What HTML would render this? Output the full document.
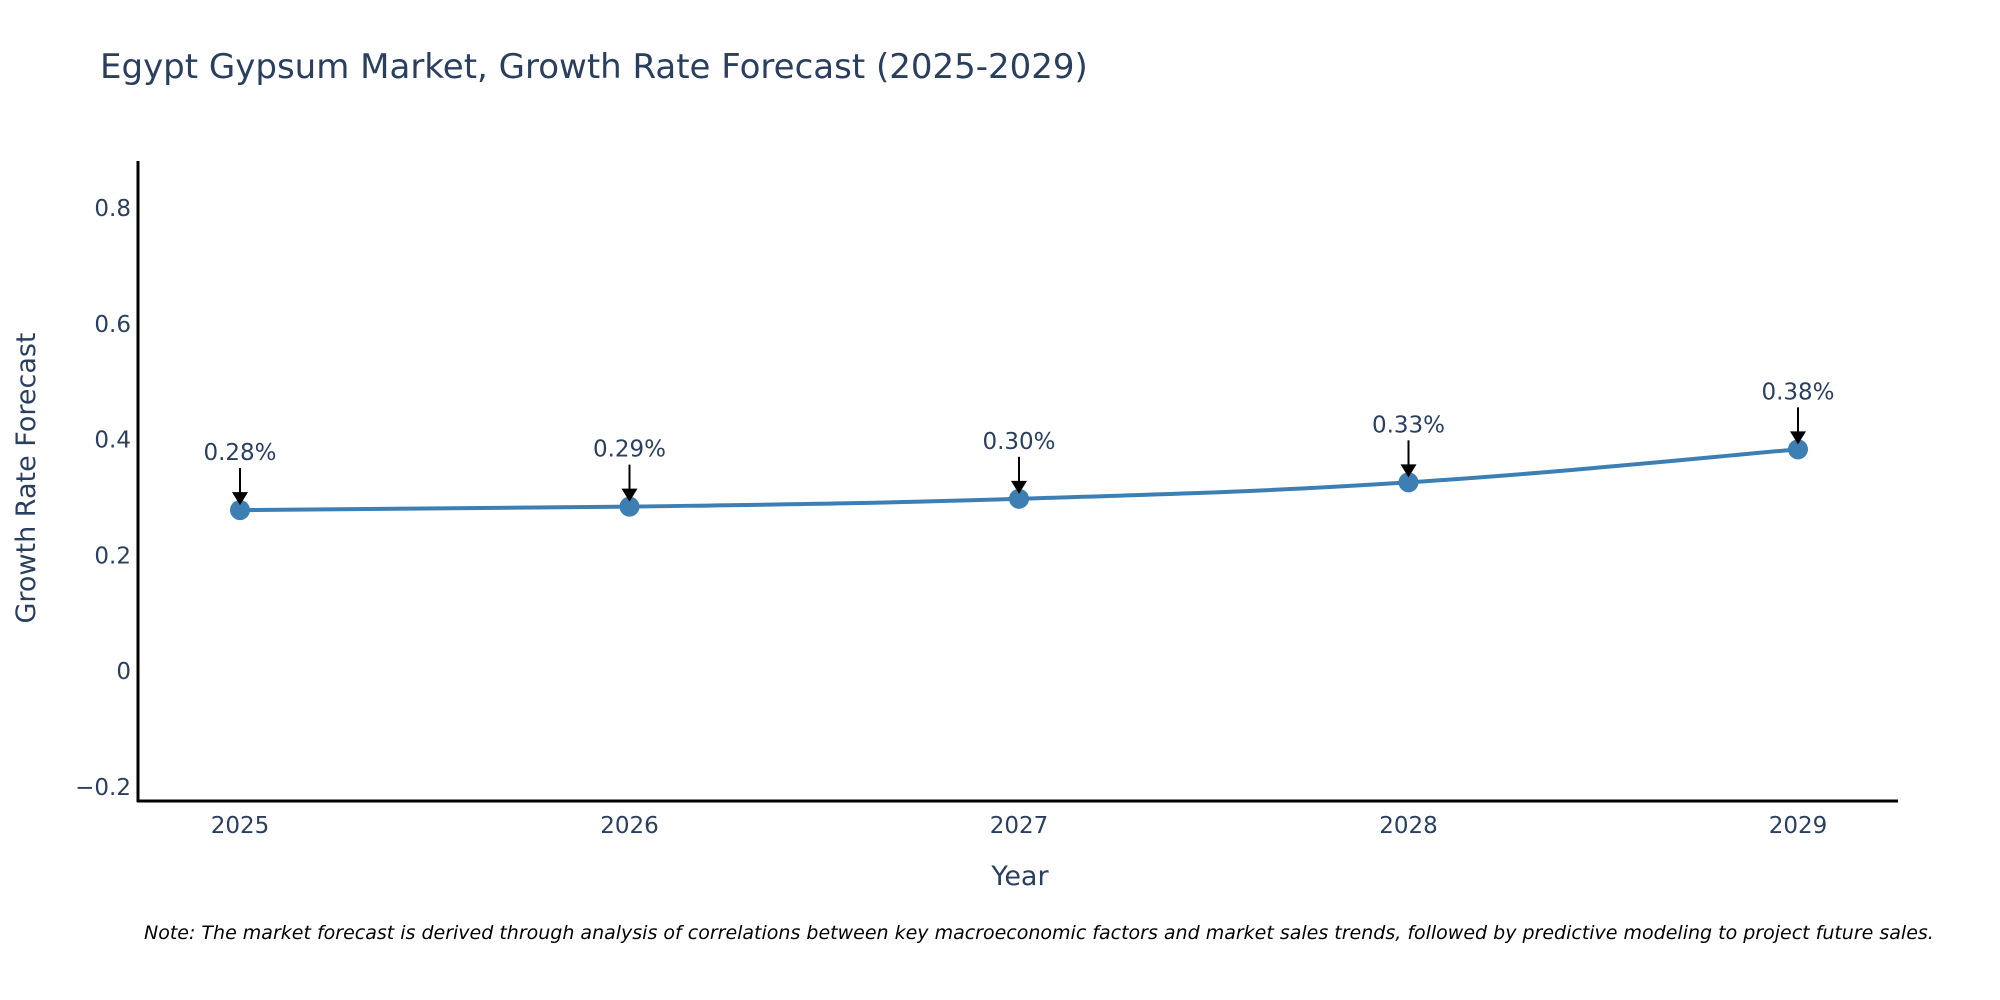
<!DOCTYPE html>
<html><head><meta charset="utf-8"><style>
html,body{margin:0;padding:0;background:#fff;overflow:hidden;}
svg{display:block;font-family:"DejaVu Sans","Liberation Sans",sans-serif;}
</style></head><body>
<svg id="chart" width="2000" height="1000" viewBox="0 0 2000 1000" xmlns="http://www.w3.org/2000/svg">
<text x="100" y="78" font-size="34" fill="#2a3f5f">Egypt Gypsum Market, Growth Rate Forecast (2025-2029)</text>
<g id="yticks"></g>
<g id="xticks"></g>
<line x1="138" y1="161" x2="138" y2="802" stroke="#000" stroke-width="3"/>
<line x1="137" y1="801" x2="1898" y2="801" stroke="#000" stroke-width="3"/>
<path id="series-line" fill="none" stroke="#3d7fb3" stroke-width="4"/>
<g id="points"></g>
<g id="annos"></g>
<text x="1020" y="885" font-size="27" fill="#2a3f5f" text-anchor="middle">Year</text>
<text transform="translate(35,478) rotate(-90)" font-size="27" fill="#2a3f5f" text-anchor="middle">Growth Rate Forecast</text>
<text x="144" y="939" font-size="19" font-style="italic" fill="#000">Note: The market forecast is derived through analysis of correlations between key macroeconomic factors and market sales trends, followed by predictive modeling to project future sales.</text>
</svg>
<script>
const years = [2025, 2026, 2027, 2028, 2029];
const values = [0.278, 0.284, 0.2975, 0.326, 0.383];
const labels = ["0.28%", "0.29%", "0.30%", "0.33%", "0.38%"];
const yTicks = [-0.2, 0, 0.2, 0.4, 0.6, 0.8];
const yTickLabels = ["\u22120.2", "0", "0.2", "0.4", "0.6", "0.8"];

const NS = "http://www.w3.org/2000/svg";
function xs(yr){ return 240 + (yr - 2025) * 389.5; }
function ys(v){ return 671 - v * 578.75; }
function mk(tag, attrs, parent, txt){
  const e = document.createElementNS(NS, tag);
  for (const k in attrs) e.setAttribute(k, attrs[k]);
  if (txt !== undefined) e.textContent = txt;
  parent.appendChild(e); return e;
}
const yg = document.getElementById("yticks");
yTicks.forEach((t, i) => {
  const el = mk("text", {x:131, y:ys(t)+8, "font-size":23, fill:"#2a3f5f", "text-anchor":"end"}, yg, yTickLabels[i]);
  
  
});
const xg = document.getElementById("xticks");
years.forEach(y => {
  const el = mk("text", {x:xs(y), y:833, "font-size":23, fill:"#2a3f5f", "text-anchor":"middle"}, xg, String(y));
  
  
});
const P = years.map((y, i) => [xs(y), ys(values[i])]);
let d = "M" + P[0][0] + "," + P[0][1];
for (let i = 0; i < P.length - 1; i++) {
  const p0 = P[Math.max(0, i-1)], p1 = P[i], p2 = P[i+1], p3 = P[Math.min(P.length-1, i+2)];
  const t = 0.2;
  const c1 = [p1[0] + (p2[0]-p0[0])*t, p1[1] + (p2[1]-p0[1])*t];
  const c2 = [p2[0] - (p3[0]-p1[0])*t, p2[1] - (p3[1]-p1[1])*t];
  d += " C" + c1.join(",") + " " + c2.join(",") + " " + p2.join(",");
}
document.getElementById("series-line").setAttribute("d", d);
const pg = document.getElementById("points"), ag = document.getElementById("annos");
P.forEach((p, i) => {
  const c = mk("circle", {cx:p[0], cy:p[1], r:10, fill:"#3d7fb3"}, pg);
  
  
  const l = mk("line", {x1:p[0], y1:p[1]-42, x2:p[0], y2:p[1]-16, stroke:"#000", "stroke-width":2}, ag);
  
  
  const h = mk("polygon", {points:(p[0]-8)+","+(p[1]-18)+" "+(p[0]+8)+","+(p[1]-18)+" "+p[0]+","+(p[1]-5), fill:"#000"}, ag);
  
  
  const t = mk("text", {x:p[0], y:p[1]-50, "font-size":23, fill:"#2a3f5f", "text-anchor":"middle"}, ag, labels[i]);
  
  
});
</script>
</body></html>
